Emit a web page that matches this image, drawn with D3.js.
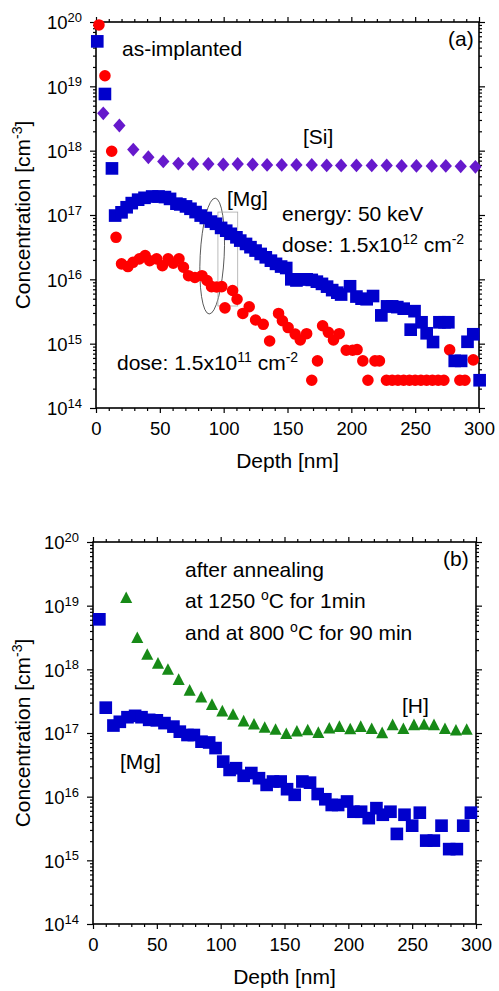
<!DOCTYPE html>
<html>
<head>
<meta charset="utf-8">
<script src="https://cdn.jsdelivr.net/npm/d3@7"></script>
<style>
  html, body { margin: 0; padding: 0; background: #fff; }
  svg { display: block; font-family: "Liberation Sans", Arial, Helvetica, sans-serif; }
</style>
</head>
<body>
<svg id="chart" width="499" height="991"></svg>
<script>
// ---- SIMS depth profiles: [depth (nm), concentration (cm^-3)] ----

// (a) as-implanted, Mg, dose 1.5x10^12 cm^-2
const mgHighDoseImplanted = [
  [1, 5e19], [7, 7.6e18], [12.5, 5.3e17], [15, 9.8e16], [20, 1.1e17], [24, 1.32e17],
  [28, 1.53e17], [33, 1.73e17], [38, 1.85e17], [44, 1.94e17], [49, 1.94e17], [54, 1.9e17],
  [58, 1.78e17], [63, 1.5e17], [66, 1.46e17], [70.5, 1.36e17], [74, 1.25e17], [78, 1.11e17],
  [82, 9.8e16], [86, 9e16], [90, 7.9e16], [94, 7.3e16], [98, 6.3e16], [102, 5.7e16],
  [105.5, 5.1e16], [110, 4.5e16], [113, 4e16], [117.5, 3.55e16], [121, 3.16e16], [125, 2.8e16],
  [129, 2.48e16], [133, 2.2e16], [137, 1.95e16], [141, 1.74e16], [145, 1.58e16], [149, 1.5e16],
  [153, 1.0e16], [157, 9.6e15], [161, 1.0e16], [165, 1.0e16], [169, 9.8e15], [173, 9.2e15],
  [177, 8.5e15], [181, 7.7e15], [185, 6.8e15], [189, 6.2e15], [192, 5.8e15], [199, 7.8e15],
  [204, 5.4e15], [208, 5.0e15], [212, 4.9e15], [217, 5.5e15], [223.5, 2.75e15], [228, 3.8e15],
  [232, 3.8e15], [236, 3.7e15], [241, 3.5e15], [246.5, 1.65e15], [249.5, 3.2e15], [255, 2.15e15],
  [259, 1.45e15], [264, 1.06e15], [269, 2.15e15], [273, 2.15e15], [276, 2.15e15], [281, 5.4e14],
  [286, 5.4e14], [291, 1.07e15], [295.5, 1.4e15], [300.5, 2.7e14]
];

// (a) as-implanted, Mg, dose 1.5x10^11 cm^-2
const mgLowDoseImplanted = [
  [2.3, 9e19], [7, 1.46e19], [12.3, 9.8e17], [15.7, 4.5e16], [20, 1.74e16], [25, 1.58e16],
  [29, 1.84e16], [34, 2.08e16], [38.5, 2.34e16], [42, 1.95e16], [47.5, 2.08e16], [52, 1.63e16],
  [56.5, 2.08e16], [60.5, 1.78e16], [65, 2.08e16], [68.5, 1.54e16], [72.5, 1.14e16], [77.5, 1.07e16],
  [83, 1.14e16], [87, 9.6e15], [90.5, 7.7e15], [94.5, 7.6e15], [98.5, 7.7e15], [101, 3.6e15],
  [107, 6.7e15], [110.5, 4.9e15], [115, 2.95e15], [120, 3.75e15], [125, 2.33e15], [131, 2e15],
  [136, 1.1e15], [143, 2.95e15], [146, 2.27e15], [150.5, 1.78e15], [156, 1.41e15], [160, 1.14e15],
  [165, 1.43e15], [169, 2.7e14], [173.5, 5.4e14], [177.5, 1.9e15], [182, 1.5e15], [186, 1.14e15],
  [190.5, 1.43e15], [196, 7.9e14], [201, 7.9e14], [204.5, 8.1e14], [209, 5.4e14], [213, 2.7e14],
  [218.5, 5.4e14], [222, 5.4e14], [227.5, 2.7e14], [232, 2.7e14], [236.5, 2.7e14], [241, 2.7e14],
  [245.5, 2.7e14], [250, 2.7e14], [254.5, 2.7e14], [259, 2.7e14], [263.5, 2.7e14], [268, 2.7e14],
  [272.5, 2.7e14], [277, 8e14], [285, 2.7e14], [289, 2.7e14], [295.5, 5.6e14]
];

// (a) as-implanted, Si background
const siImplanted = [
  [5.7, 3.8e18], [18.3, 2.46e18], [29.2, 1.04e18], [41, 7.9e17], [52.7, 6.8e17], [64.5, 6.3e17],
  [76, 6.2e17], [88, 6.2e17], [99.7, 6.1e17], [111, 6.2e17], [122.7, 6.1e17], [134, 6.0e17],
  [145.5, 6.0e17], [157, 6.0e17], [169, 6.0e17], [180.7, 5.9e17], [192, 5.9e17], [204, 5.9e17],
  [216, 5.9e17], [227.7, 5.9e17], [239.4, 5.8e17], [251, 5.8e17], [263, 5.8e17], [274, 5.8e17],
  [285.7, 5.7e17], [297.2, 5.6e17]
];

// (b) after annealing, Mg
const mgAnnealed = [
  [5, 6.1e18], [10, 2.5e17], [16, 1.31e17], [21, 1.5e17], [27, 1.77e17], [33, 1.86e17],
  [38, 1.77e17], [44, 1.61e17], [50, 1.58e17], [56, 1.43e17], [63, 1.26e17], [68, 1.05e17],
  [74, 9.3e16], [79, 9.3e16], [85, 7.3e16], [91, 7.1e16], [96, 5.8e16], [102, 3.55e16],
  [107, 2.63e16], [112, 2.8e16], [118, 2.13e16], [124, 2.35e16], [130, 1.95e16], [136, 1.53e16],
  [141, 1.73e16], [147, 1.73e16], [152, 1.31e16], [158, 1.07e16], [164, 1.73e16], [170, 1.66e16],
  [176, 1.1e16], [182, 9.1e15], [187, 7.4e15], [192, 7.4e15], [199, 8.4e15], [204, 5.8e15],
  [210, 5.8e15], [216, 4.6e15], [222, 6.6e15], [227, 5.2e15], [233, 5.8e15], [238, 2.6e15],
  [244, 5.2e15], [250, 3.5e15], [256, 5.6e15], [261, 2.04e15], [267, 2.04e15], [273, 3.5e15],
  [279, 1.5e15], [285, 1.5e15], [290, 3.5e15], [296, 5.6e15]
];

// (b) after annealing, H
const hAnnealed = [
  [26, 1.31e19], [34.7, 3.08e18], [42.5, 1.68e18], [50.9, 1.22e18], [58.7, 9.8e17], [67.1, 6.8e17],
  [75.7, 4.6e17], [84.8, 3.6e17], [93.2, 2.75e17], [101.3, 2.17e17], [109.7, 1.92e17], [118, 1.51e17],
  [126.1, 1.35e17], [134.5, 1.2e17], [143, 1.12e17], [151.4, 9.6e16], [159.7, 1.05e17], [168.2, 1.1e17],
  [176.5, 1.0e17], [185.1, 1.17e17], [193, 1.24e17], [201.5, 1.14e17], [209.7, 1.24e17], [218.3, 1.15e17],
  [226.5, 9.9e16], [234.7, 1.32e17], [243.1, 1.15e17], [251.4, 1.32e17], [259.3, 1.34e17], [267.1, 1.32e17],
  [275.7, 1.15e17], [284.3, 1.09e17], [292.7, 1.12e17]
];

const depthMajorTicks = [0, 50, 100, 150, 200, 250, 300];
const decadeExponents = [14, 15, 16, 17, 18, 19, 20];

// ---- marker shapes ----
const diamondShape = {
  draw(ctx, size) {
    const h = Math.sqrt(size) * 0.62, w = Math.sqrt(size) * 0.55;
    ctx.moveTo(0, -h); ctx.lineTo(w, 0); ctx.lineTo(0, h); ctx.lineTo(-w, 0); ctx.closePath();
  }
};
const triangleShape = {
  draw(ctx, size) {
    const s = Math.sqrt(size);
    ctx.moveTo(0, -0.58 * s); ctx.lineTo(0.52 * s, 0.42 * s); ctx.lineTo(-0.52 * s, 0.42 * s); ctx.closePath();
  }
};

const svg = d3.select("#chart");

function superText(sel, parts, supSize) {
  // parts: array of [string, isSuperscript]
  let raised = false;
  parts.forEach(([str, sup]) => {
    const t = sel.append("tspan").text(str);
    if (sup && !raised) { t.attr("dy", -8).attr("font-size", supSize); raised = true; }
    else if (sup) { t.attr("font-size", supSize); }
    else if (!sup && raised) { t.attr("dy", 8); raised = false; }
  });
}

function drawPanel(p) {
  const x = d3.scaleLinear().domain([0, 300]).range([p.left, p.right]);
  const y = d3.scaleLog().domain([1e14, 1e20]).range([p.bottom, p.top]);
  const g = svg.append("g");

  const minorDepth = d3.range(0, 301, 10).filter(v => v % 50 !== 0);
  const decades = decadeExponents.map(e => Math.pow(10, e));
  const minorConc = [];
  decadeExponents.slice(0, -1).forEach(e => { for (let k = 2; k <= 9; k++) minorConc.push(k * Math.pow(10, e)); });

  function styleAxis(sel) {
    sel.select(".domain").remove();
    sel.selectAll(".tick line").attr("stroke", "#000").attr("stroke-width", 1.2);
  }

  // bottom / top
  g.append("g").attr("transform", `translate(0,${p.bottom})`)
    .call(d3.axisBottom(x).tickValues(depthMajorTicks).tickSize(5).tickPadding(9).tickFormat(d3.format("d")))
    .call(styleAxis)
    .call(s => s.selectAll("text").attr("fill", "#000").attr("font-size", 18.5)
      .attr("font-family", "Liberation Sans, Arial, sans-serif"));
  g.append("g").attr("transform", `translate(0,${p.bottom})`)
    .call(d3.axisBottom(x).tickValues(minorDepth).tickSize(3).tickFormat(""))
    .call(styleAxis);
  g.append("g").attr("transform", `translate(0,${p.top})`)
    .call(d3.axisTop(x).tickValues(depthMajorTicks).tickSize(5).tickFormat(""))
    .call(styleAxis);
  g.append("g").attr("transform", `translate(0,${p.top})`)
    .call(d3.axisTop(x).tickValues(minorDepth).tickSize(3).tickFormat(""))
    .call(styleAxis);

  // left / right
  g.append("g").attr("transform", `translate(${p.left},0)`)
    .call(d3.axisLeft(y).tickValues(decades).tickSize(6).tickPadding(8).tickFormat(() => ""))
    .call(styleAxis)
    .call(s => s.selectAll(".tick text").each(function (d) {
      const t = d3.select(this).attr("fill", "#000").attr("font-size", 18.5)
        .attr("font-family", "Liberation Sans, Arial, sans-serif").attr("dy", "0.36em");
      t.append("tspan").text("10");
      t.append("tspan").text(Math.round(Math.log10(d))).attr("font-size", 13).attr("dy", "-0.55em");
    }));
  g.append("g").attr("transform", `translate(${p.left},0)`)
    .call(d3.axisLeft(y).tickValues(minorConc).tickSize(3).tickFormat(""))
    .call(styleAxis);
  g.append("g").attr("transform", `translate(${p.right},0)`)
    .call(d3.axisRight(y).tickValues(decades).tickSize(6).tickFormat(""))
    .call(styleAxis);
  g.append("g").attr("transform", `translate(${p.right},0)`)
    .call(d3.axisRight(y).tickValues(minorConc).tickSize(3).tickFormat(""))
    .call(styleAxis);

  // frame
  g.append("rect").attr("x", p.left).attr("y", p.top)
    .attr("width", p.right - p.left).attr("height", p.bottom - p.top)
    .attr("fill", "none").attr("stroke", "#000").attr("stroke-width", 1.6);

  // axis titles
  g.append("text").attr("x", (p.left + p.right) / 2).attr("y", p.bottom + 60)
    .attr("text-anchor", "middle").attr("font-size", 21).text("Depth [nm]");
  const yl = g.append("text")
    .attr("transform", `translate(30,${(p.top + p.bottom) / 2}) rotate(-90)`)
    .attr("text-anchor", "middle").attr("font-size", 21);
  superText(yl, [["Concentration [cm", false], ["-3", true], ["]", false]], 14);

  if (p.extra) p.extra(g, x, y);

  // data series
  p.series.forEach(s => {
    g.append("g").selectAll("path").data(s.data).join("path")
      .attr("transform", d => `translate(${x(d[0])},${y(d[1])})`)
      .attr("d", d3.symbol().type(s.shape).size(s.size)())
      .attr("fill", s.color);
  });

  // annotations
  p.labels.forEach(l => {
    const t = g.append("text").attr("x", l.x).attr("y", l.y).attr("font-size", 21).attr("fill", "#000");
    superText(t, l.parts, 14);
  });
}

drawPanel({
  left: 96, right: 479, top: 22, bottom: 408,
  extra(g, x, y) {
    // highlight around the ~95 nm region
    g.append("ellipse")
      .attr("cx", x(91)).attr("cy", y(2.3e16)).attr("rx", 12).attr("ry", 58)
      .attr("transform", `rotate(3,${x(91)},${y(2.3e16)})`)
      .attr("fill", "none").attr("stroke", "#333").attr("stroke-width", 0.8);
    g.append("rect")
      .attr("x", x(95.5)).attr("y", y(1.11e17))
      .attr("width", x(111) - x(95.5)).attr("height", y(3.85e15) - y(1.11e17))
      .attr("fill", "none").attr("stroke", "#aaa").attr("stroke-width", 0.8);
  },
  series: [
    { data: siImplanted, shape: diamondShape, size: 125, color: "#6619cc" },
    { data: mgLowDoseImplanted, shape: d3.symbolCircle, size: 105, color: "#ff0000" },
    { data: mgHighDoseImplanted, shape: d3.symbolSquare, size: 160, color: "#0000cc" }
  ],
  labels: [
    { x: 122, y: 56, parts: [["as-implanted", false]] },
    { x: 448, y: 46, parts: [["(a)", false]] },
    { x: 303, y: 144, parts: [["[Si]", false]] },
    { x: 227, y: 206, parts: [["[Mg]", false]] },
    { x: 282, y: 221, parts: [["energy: 50 keV", false]] },
    { x: 282, y: 252, parts: [["dose: 1.5x10", false], ["12", true], [" cm", false], ["-2", true]] },
    { x: 117, y: 370, parts: [["dose: 1.5x10", false], ["11", true], [" cm", false], ["-2", true]] }
  ]
});

drawPanel({
  left: 93, right: 476, top: 542, bottom: 924,
  series: [
    { data: hAnnealed, shape: triangleShape, size: 135, color: "#178a17" },
    { data: mgAnnealed, shape: d3.symbolSquare, size: 160, color: "#0000cc" }
  ],
  labels: [
    { x: 185, y: 577, parts: [["after annealing", false]] },
    { x: 185, y: 608, parts: [["at 1250 ", false], ["o", true], ["C for 1min", false]] },
    { x: 185, y: 640, parts: [["and at 800 ", false], ["o", true], ["C for 90 min", false]] },
    { x: 443, y: 566, parts: [["(b)", false]] },
    { x: 402, y: 713, parts: [["[H]", false]] },
    { x: 120, y: 769, parts: [["[Mg]", false]] }
  ]
});
</script>
</body>
</html>
